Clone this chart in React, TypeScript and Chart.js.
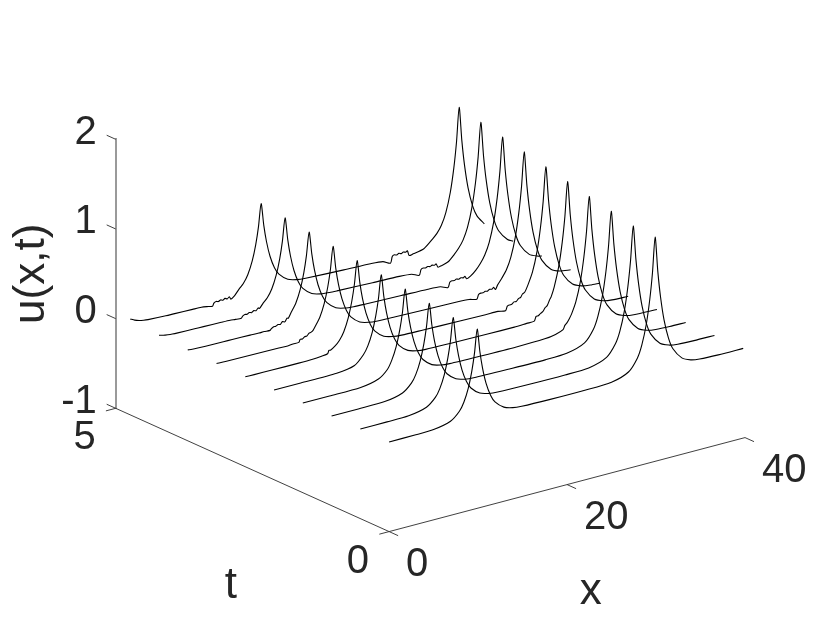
import React, { useEffect, useRef } from "react";
import { Chart, registerables } from "chart.js";

Chart.register(...registerables);

// each profile is a list of [x, u]
const profile0 = [[0,0],[3,0.001],[5,0.007],[6.9,0.05],[7.9,0.135],[8.4,0.223],[8.9,0.368],[9.3,0.549],[9.6,0.741],[9.9,1],[10.2,0.741],[10.5,0.549],[10.9,0.368],[11.4,0.223],[11.9,0.135],[12.9,0.05],[13.9,0.018],[14.9,0.007],[18,0],[22,0],[25,0.011],[26.9,0.075],[27.9,0.203],[28.4,0.335],[28.9,0.552],[29.3,0.823],[29.6,1.111],[29.9,1.5],[30.2,1.111],[30.5,0.823],[30.9,0.552],[31.4,0.335],[31.9,0.203],[32.9,0.075],[33.9,0.027],[34.9,0.01],[37,0.001],[39.8,0]];
const profile1 = [[0,0],[3,0],[5.43,0.005],[7.43,0.048],[8.43,0.131],[8.93,0.216],[9.43,0.357],[9.83,0.532],[10.13,0.719],[10.43,0.97],[10.73,0.719],[11.03,0.532],[11.43,0.357],[11.93,0.216],[12.43,0.131],[13.43,0.048],[14.43,0.018],[15.43,0.007],[19,0],[23,-0.001],[25.67,0.008],[27.67,0.073],[28.67,0.198],[29.17,0.326],[29.67,0.537],[30.07,0.801],[30.37,1.082],[30.67,1.46],[30.97,1.082],[31.27,0.801],[31.67,0.537],[32.17,0.326],[32.67,0.198],[33.67,0.073],[34.67,0.027],[35.67,0.01],[37.5,0.002],[39.8,0]];
const profile2 = [[0,0],[3,0],[5.97,0.004],[7.97,0.048],[8.97,0.131],[9.47,0.216],[9.97,0.357],[10.37,0.532],[10.67,0.719],[10.97,0.97],[11.27,0.719],[11.57,0.532],[11.97,0.357],[12.47,0.216],[12.97,0.131],[13.97,0.048],[14.97,0.018],[15.97,0.007],[20,0],[24,-0.003],[26.43,0.006],[28.43,0.07],[29.43,0.196],[29.93,0.326],[30.43,0.537],[30.83,0.801],[31.13,1.082],[31.43,1.46],[31.73,1.082],[32.03,0.801],[32.43,0.537],[32.93,0.326],[33.43,0.198],[34.43,0.073],[35.43,0.027],[36.43,0.01],[38,0.002],[39.8,0]];
const profile3 = [[0,0.001],[3,0],[6.5,0.003],[8.5,0.045],[9.5,0.125],[10,0.216],[10.5,0.357],[10.9,0.532],[11.2,0.719],[11.5,0.97],[11.8,0.719],[12.1,0.532],[12.5,0.357],[13,0.216],[13.5,0.131],[14.5,0.048],[15.5,0.018],[16.5,0.007],[20,0],[24,-0.004],[27.19,0.003],[28.4,0.021],[29.25,0.052],[29.45,0.094],[29.7,0.118],[29.95,0.155],[30.2,0.2],[30.69,0.326],[31.19,0.537],[31.59,0.801],[31.89,1.082],[32.19,1.46],[32.49,1.082],[32.79,0.801],[33.19,0.537],[33.69,0.326],[34.19,0.198],[35.19,0.073],[36.19,0.027],[37.19,0.01],[39.8,0]];
const profile4 = [[0,0.001],[3,0],[7.04,0.003],[9.04,0.037],[10.04,0.131],[10.54,0.216],[11.04,0.357],[11.44,0.532],[11.74,0.719],[12.04,0.97],[12.34,0.719],[12.64,0.532],[13.04,0.357],[13.54,0.216],[14.04,0.131],[15.04,0.048],[16.04,0.018],[17.04,0.007],[20,0.001],[24,-0.005],[27,-0.006],[28.4,-0.001],[29.25,0.002],[29.45,0.05],[29.7,0.05],[29.95,0.07],[30.2,0.082],[30.45,0.118],[30.7,0.137],[30.95,0.19],[31.15,0.226],[31.49,0.326],[31.99,0.537],[32.39,0.801],[32.69,1.082],[32.99,1.46],[33.29,1.082],[33.59,0.801],[33.99,0.537],[34.49,0.326],[34.99,0.198],[35.99,0.073],[36.99,0.027],[37.99,0.01],[39.8,0.002]];
const profile5 = [[0,0.003],[1,0.001],[3,0],[6,-0.002],[7.57,0],[8.57,0.008],[9.25,0.018],[9.4,0.052],[9.57,0.048],[10.07,0.08],[10.57,0.131],[11.07,0.216],[11.57,0.357],[11.97,0.532],[12.27,0.719],[12.57,0.97],[12.87,0.719],[13.17,0.532],[13.57,0.357],[14.07,0.216],[14.57,0.131],[15.57,0.048],[16.57,0.018],[17.57,0.007],[20,0.001],[24,-0.007],[27,-0.012],[28.4,-0.012],[29.25,-0.026],[29.45,0.019],[29.7,0.026],[29.95,0.028],[30.2,0.047],[30.45,0.045],[30.7,0.07],[30.95,0.078],[31.15,0.11],[31.4,0.122],[31.78,0.198],[32.28,0.326],[32.78,0.537],[33.18,0.801],[33.48,1.082],[33.78,1.46],[34.08,1.082],[34.38,0.801],[34.78,0.537],[35.28,0.326],[35.78,0.198],[36.78,0.073],[37.78,0.027],[38.78,0.01],[39.8,0.004]];
const profile6 = [[0,0.0065],[1,0.002],[3,0],[5,-0.002],[7,-0.004],[8,-0.007],[8.6,-0.001],[9.25,0],[9.4,0.03],[9.65,0.028],[9.9,0.046],[10.15,0.048],[10.4,0.072],[10.6,0.076],[10.85,0.092],[11.1,0.131],[11.6,0.216],[12.1,0.357],[12.5,0.532],[12.8,0.719],[13.1,0.97],[13.4,0.719],[13.7,0.532],[14.1,0.357],[14.6,0.216],[15.1,0.131],[16.1,0.048],[17.1,0.018],[18.1,0.007],[20,0.001],[24,-0.008],[27,-0.015],[28.4,-0.023],[29.25,-0.043],[29.45,0.004],[29.7,0.013],[29.95,0.01],[30.2,0.02],[30.45,0.015],[30.7,0.03],[30.95,0.024],[31.15,0.04],[31.35,0.01],[31.58,0.053],[32.08,0.12],[32.58,0.198],[33.08,0.326],[33.58,0.537],[33.98,0.801],[34.28,1.082],[34.58,1.46],[34.88,1.082],[35.18,0.801],[35.58,0.537],[36.08,0.326],[36.58,0.198],[37.58,0.073],[38.58,0.027],[39.8,0.0085]];
const profile7 = [[0,0.014],[0.5,0.0085],[1,0.005],[2,0.002],[4,0],[5,-0.002],[7,-0.005],[8,-0.008],[8.6,-0.007],[9.25,-0.011],[9.4,0.005],[9.65,0.02],[9.9,0.018],[10.15,0.03],[10.4,0.025],[10.65,0.052],[10.9,0.04],[11.15,0.075],[11.3,0.07],[11.64,0.131],[12.14,0.216],[12.64,0.357],[13.04,0.532],[13.34,0.719],[13.64,0.97],[13.94,0.719],[14.24,0.532],[14.64,0.357],[15.14,0.216],[15.64,0.131],[16.64,0.048],[17.64,0.018],[18.64,0.007],[20,0.002],[24,-0.009],[27,-0.017],[28.4,-0.027],[29.25,-0.058],[29.45,-0.004],[29.7,0.006],[29.95,0.002],[30.2,0.012],[30.45,0.004],[30.7,0.014],[30.95,0.006],[31.15,0.018],[31.35,-0.015],[31.8,0.005],[32.38,0.055],[32.88,0.115],[33.38,0.198],[33.88,0.326],[34.38,0.537],[34.78,0.801],[35.08,1.082],[35.38,1.46],[35.68,1.082],[35.98,0.801],[36.38,0.537],[36.88,0.326],[37.38,0.198],[38.38,0.073],[39.38,0.027],[39.8,0.018]];
const profile8 = [[0,0.032],[0.5,0.019],[1,0.012],[1.5,0.007],[2,0.004],[4,0],[5,-0.002],[7,-0.006],[8,-0.009],[8.6,-0.016],[9.25,-0.02],[9.4,0],[9.65,0.012],[9.9,0.006],[10.15,0.02],[10.4,0.012],[10.65,0.028],[10.9,0.02],[11.15,0.045],[11.3,0.035],[11.67,0.08],[12.17,0.131],[12.67,0.216],[13.17,0.357],[13.57,0.532],[13.87,0.719],[14.17,0.97],[14.47,0.719],[14.77,0.532],[15.17,0.357],[15.67,0.216],[16.17,0.131],[17.17,0.048],[18.17,0.018],[19.17,0.007],[20,0.003],[24,-0.011],[27,-0.019],[28.4,-0.031],[29.25,-0.066],[29.45,-0.005],[29.7,0.004],[29.95,-0.002],[30.2,0.008],[30.45,0],[30.7,0.01],[30.95,0.002],[31.15,0.012],[31.35,-0.03],[31.8,-0.022],[32.5,0],[33.17,0.063],[33.67,0.12],[34.17,0.198],[34.67,0.326],[35.17,0.537],[35.57,0.801],[35.87,1.082],[36.17,1.46],[36.47,1.082],[36.77,0.801],[37.17,0.537],[37.67,0.326],[38.17,0.198],[39.17,0.073],[39.8,0.039]];
const profile9 = [[0,0.07],[0.5,0.043],[1,0.026],[1.5,0.016],[2,0.01],[4,0],[5,-0.002],[7,-0.007],[8,-0.01],[8.6,-0.018],[9.25,-0.03],[9.4,0],[9.65,0.012],[9.9,0.004],[10.15,0.016],[10.4,0.006],[10.65,0.02],[10.9,0.008],[11.15,0.025],[11.3,-0.005],[11.71,0.02],[12.21,0.08],[12.71,0.131],[13.21,0.216],[13.71,0.357],[14.11,0.532],[14.41,0.719],[14.71,0.97],[15.01,0.719],[15.31,0.532],[15.71,0.357],[16.21,0.216],[16.71,0.131],[17.71,0.048],[18.71,0.018],[19.71,0.007],[24,-0.012],[27,-0.022],[28.4,-0.035],[29.25,-0.075],[29.45,-0.006],[29.7,0.006],[29.95,-0.002],[30.2,0.01],[30.45,0],[30.7,0.012],[30.95,0.002],[31.15,0.014],[31.35,-0.045],[31.8,-0.038],[33,-0.012],[33.97,0.07],[34.47,0.12],[34.97,0.198],[35.47,0.326],[35.97,0.537],[36.37,0.801],[36.67,1.082],[36.97,1.46],[37.27,1.082],[37.57,0.801],[37.97,0.537],[38.47,0.326],[38.97,0.198],[39.8,0.086]];

const profiles = [profile0, profile1, profile2, profile3, profile4, profile5, profile6, profile7, profile8, profile9];
const times = [0, 0.526, 1.052, 1.578, 2.104, 2.63, 3.156, 3.682, 4.208, 4.734];

const uTicks = [-1, 0, 1, 2];
const xTicks = [0, 20, 40];
const tTicks = [0, 5];

// oblique view: x and t are sheared into the chart's two scales
const X_MAX = 40;
const T_MAX = 5;
const U_MIN = -1;
const SHEAR_X = 6.146;
const SHEAR_XU = 0.02621;
const SHEAR_TU = 0.275;
const view = (x: number, t: number, u: number) => ({
  x: x - SHEAR_X * t,
  y: u + SHEAR_XU * x + SHEAR_TU * (t - T_MAX),
});

const INK = "#262626";
const FONT = "Liberation Sans";
const TICK_SIZE = 40;
const LABEL_SIZE = 44;

const segment = (a: number[], b: number[]) => ({
  data: [view(a[0], a[1], a[2]), view(b[0], b[1], b[2])],
  showLine: true,
  borderColor: "#2b2b2b",
  borderWidth: 0.9,
  pointRadius: 0,
  clip: false as const,
});

const datasets = [
  ...profiles.map((p, i) => ({
    data: p.map(([x, u]) => view(x, times[i], u)),
    showLine: true,
    borderColor: "#000000",
    borderWidth: 1.1,
    tension: 0.25,
    pointRadius: 0,
    clip: false as const,
  })),
  segment([0, 0, U_MIN], [X_MAX, 0, U_MIN]),
  segment([0, 0, U_MIN], [0, T_MAX, U_MIN]),
  ...xTicks.map((x) => segment([x, 0, U_MIN], [x, -0.165, U_MIN])),
  segment([0, 0, U_MIN], [-1.1, 0, U_MIN]),
  segment([0, T_MAX, U_MIN], [-1.1, T_MAX, U_MIN]),
  ...uTicks.map((u) => segment([0, T_MAX, u], [0, T_MAX + 0.165, u])),
];

const obliqueAxisText = {
  id: "obliqueAxisText",
  afterDraw(chart: any) {
    const { ctx, scales } = chart;
    const put = (text: string, x: number, t: number, dx: number, dy: number) => {
      const p = view(x, t, U_MIN);
      ctx.fillText(text, scales.x.getPixelForValue(p.x) + dx, scales.y.getPixelForValue(p.y) + dy);
    };
    ctx.save();
    ctx.fillStyle = INK;
    ctx.font = `${TICK_SIZE}px "${FONT}"`;
    ctx.textBaseline = "middle";
    ctx.textAlign = "left";
    xTicks.forEach((x) => put(String(x), x, 0, 17, 33.5));
    ctx.textAlign = "right";
    tTicks.forEach((t) => put(String(t), 0, t, -20, 30));
    ctx.textAlign = "center";
    ctx.font = `${LABEL_SIZE}px "${FONT}"`;
    put("x", 20, 0, 23.6, 107.7);
    put("t", 0, 2.5, -21.6, 116);
    ctx.restore();
  },
};

export default function App() {
  const ref = useRef<HTMLCanvasElement>(null);
  useEffect(() => {
    const chart = new Chart(ref.current!, {
      type: "scatter",
      data: { datasets },
      plugins: [obliqueAxisText],
      options: {
        animation: false,
        responsive: false,
        events: [],
        layout: { padding: { left: 0, top: 139.3, right: 77, bottom: 208.7 } },
        plugins: { legend: { display: false }, tooltip: { enabled: false } },
        scales: {
          x: { type: "linear", display: false, min: -SHEAR_X * T_MAX, max: X_MAX },
          y: {
            type: "linear",
            min: U_MIN,
            max: 2,
            afterFit: (s: any) => {
              s.width = 115.7;
            },
            grid: { display: false, drawTicks: false },
            border: { display: true, color: "#9a9a9a", width: 2 },
            title: {
              display: true,
              text: "u(x,t)",
              color: INK,
              font: { family: FONT, size: LABEL_SIZE },
              padding: { top: 5, bottom: 0 },
            },
            ticks: {
              stepSize: 1,
              padding: 19,
              color: INK,
              font: { family: FONT, size: TICK_SIZE, lineHeight: 0.325 },
              callback: (v: any) => [String(v), ""],
            },
          },
        },
      },
    } as any);
    return () => chart.destroy();
  }, []);
  return (
    <div style={{ position: "fixed", left: 0, top: 0, width: 822, height: 617, background: "#fff" }}>
      <canvas ref={ref} width={822} height={617} style={{ display: "block" }} />
    </div>
  );
}
